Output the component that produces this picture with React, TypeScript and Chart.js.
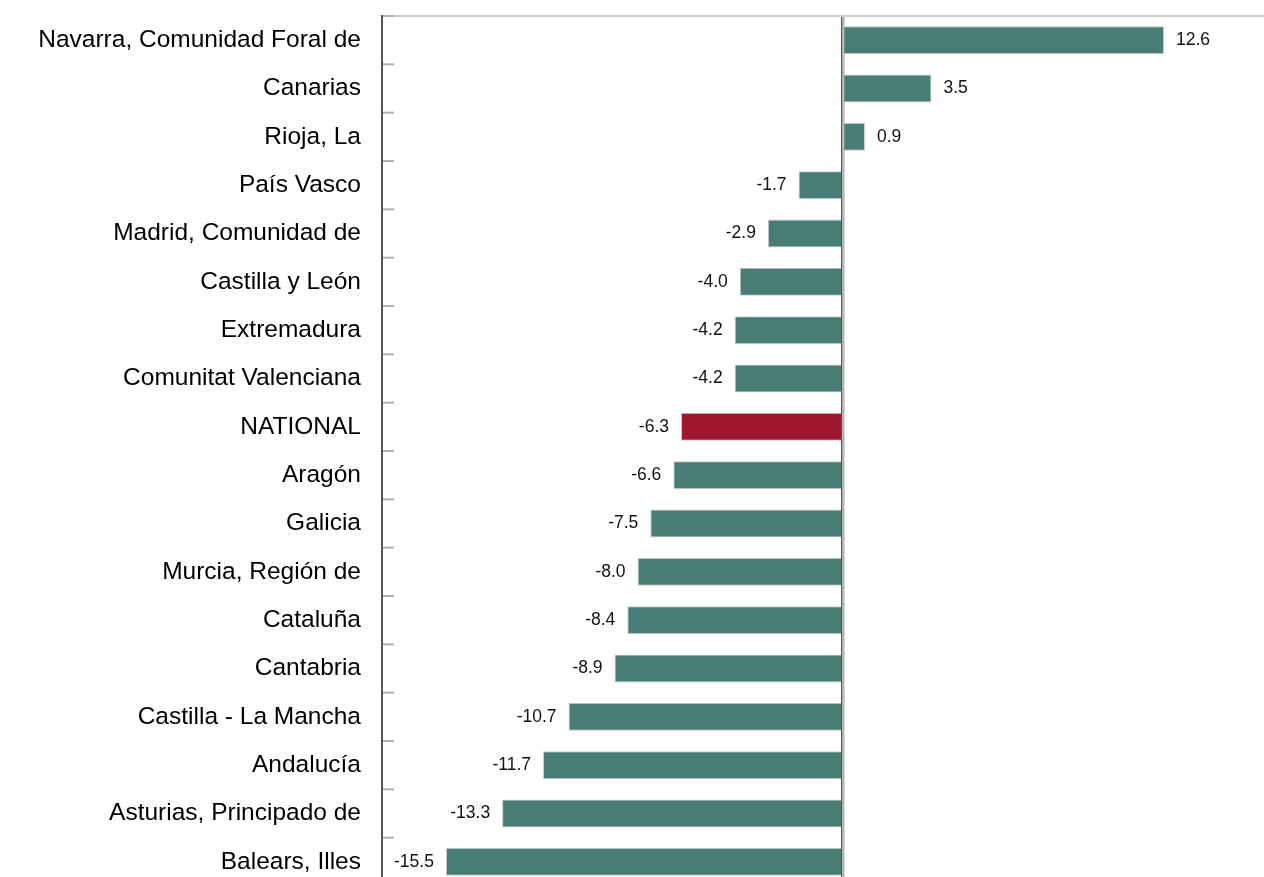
import React, { useEffect, useRef } from "react";
import { Chart, registerables } from "chart.js";

Chart.register(...registerables);

const categories = [
  "Navarra, Comunidad Foral de",
  "Canarias",
  "Rioja, La",
  "País Vasco",
  "Madrid, Comunidad de",
  "Castilla y León",
  "Extremadura",
  "Comunitat Valenciana",
  "NATIONAL",
  "Aragón",
  "Galicia",
  "Murcia, Región de",
  "Cataluña",
  "Cantabria",
  "Castilla - La Mancha",
  "Andalucía",
  "Asturias, Principado de",
  "Balears, Illes",
];

const values = [12.6, 3.5, 0.9, -1.7, -2.9, -4.0, -4.2, -4.2, -6.3, -6.6, -7.5, -8.0, -8.4, -8.9, -10.7, -11.7, -13.3, -15.5];

const highlight = "NATIONAL";
const TEAL = "#477D75";
const RED = "#A01830";
const FONT = "'Liberation Sans', Arial, sans-serif";

const decorPlugin = {
  id: "decor",
  beforeDatasetsDraw(chart: any) {
    const { ctx, chartArea } = chart;
    const y = chart.scales.y;
    ctx.save();
    // top line
    ctx.strokeStyle = "#cfcfcf";
    ctx.lineWidth = 2;
    ctx.beginPath();
    ctx.moveTo(chartArea.left, chartArea.top);
    ctx.lineTo(chart.width, chartArea.top);
    ctx.stroke();
    // category boundary ticks
    const n = chart.data.labels.length;
    const step = (chartArea.bottom - chartArea.top) / n;
    ctx.strokeStyle = "#b0b0b0";
    ctx.lineWidth = 2;
    for (let i = 0; i <= n; i++) {
      const yy = y.getPixelForValue(i) - step / 2;
      ctx.beginPath();
      ctx.moveTo(chartArea.left, yy);
      ctx.lineTo(chartArea.left + 12, yy);
      ctx.stroke();
    }
    // left axis
    ctx.strokeStyle = "#555";
    ctx.lineWidth = 2;
    ctx.beginPath();
    ctx.moveTo(chartArea.left, chartArea.top - 1);
    ctx.lineTo(chartArea.left, chartArea.bottom);
    ctx.stroke();
    ctx.restore();
  },
  afterDatasetsDraw(chart: any) {
    const { ctx, chartArea } = chart;
    const x = chart.scales.x;
    const zx = x.getPixelForValue(0);
    ctx.save();
    ctx.strokeStyle = "#b4b4b4";
    ctx.lineWidth = 3;
    ctx.beginPath();
    ctx.moveTo(zx + 1, chartArea.top + 1);
    ctx.lineTo(zx + 1, chartArea.bottom);
    ctx.stroke();
    ctx.strokeStyle = "#555";
    ctx.lineWidth = 1;
    ctx.beginPath();
    ctx.moveTo(zx - 0.5, chartArea.top + 1);
    ctx.lineTo(zx - 0.5, chartArea.bottom);
    ctx.stroke();
    // data labels
    const meta = chart.getDatasetMeta(0);
    ctx.fillStyle = "#111";
    ctx.font = `17.5px ${FONT}`;
    ctx.textBaseline = "middle";
    meta.data.forEach((bar: any, i: number) => {
      const v = values[i];
      const txt = v.toFixed(1);
      if (v >= 0) {
        ctx.textAlign = "left";
        ctx.fillText(txt, bar.x + 12, bar.y);
      } else {
        ctx.textAlign = "right";
        ctx.fillText(txt, bar.x - 12, bar.y);
      }
    });
    ctx.restore();
  },
};

export default function App() {
  const ref = useRef<HTMLCanvasElement | null>(null);
  useEffect(() => {
    if (!ref.current) return;
    const chart = new Chart(ref.current, {
      type: "bar",
      data: {
        labels: categories,
        datasets: [
          {
            data: values,
            backgroundColor: categories.map((c) => (c === highlight ? RED : TEAL)),
            borderColor: "rgba(140,140,140,0.45)",
            borderWidth: 1,
            borderSkipped: false,
            barPercentage: 0.58,
            categoryPercentage: 1,
          },
        ],
      },
      options: {
        indexAxis: "y",
        responsive: false,
        animation: false,
        layout: { padding: { top: 16, left: 0, right: 0, bottom: 0 } },
        plugins: { legend: { display: false }, tooltip: { enabled: false } },
        scales: {
          x: { display: false, min: -18, max: 18 },
          y: {
            afterFit(scale: any) {
              scale.width = 382;
              scale.paddingTop = 0;
              scale.paddingBottom = 0;
            },
            border: { display: false },
            grid: { display: false, drawTicks: false },
            ticks: {
              padding: 21,
              color: "#000",
              font: { size: 24.5, family: FONT },
            },
          },
        },
      },
      plugins: [decorPlugin],
    });
    return () => chart.destroy();
  }, []);
  return (
    <div style={{ position: "fixed", left: 0, top: 0, width: 1264, height: 877, overflow: "hidden", background: "#fff" }}>
      <canvas ref={ref} width={1302} height={886} style={{ display: "block" }} />
    </div>
  );
}
